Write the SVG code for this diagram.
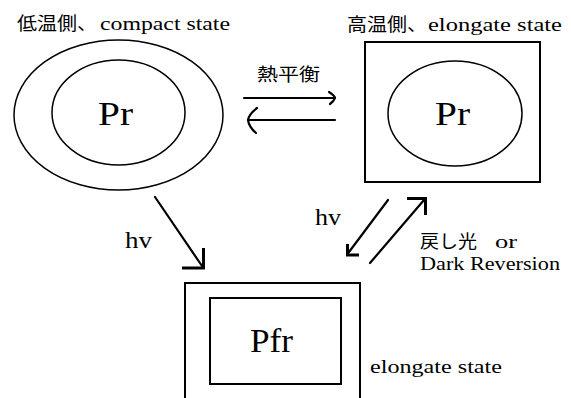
<svg xmlns="http://www.w3.org/2000/svg" width="571" height="398" viewBox="0 0 571 398">
<style>
.sh{fill:none;stroke:#000;stroke-width:1.5}
.bx{fill:none;stroke:#000;stroke-width:2}
.ln{fill:none;stroke:#000;stroke-width:2.2;stroke-linecap:round;stroke-linejoin:round}
.hd{fill:none;stroke:#000;stroke-width:3;stroke-linecap:butt;stroke-linejoin:miter}
.t{font-family:"Liberation Serif","Noto Sans CJK JP",serif;fill:#000}
.j{font-family:"Noto Sans CJK JP",sans-serif;fill:#000;font-size:18px}
.lab{font-size:19px}
.big{font-size:34px}
</style>
<rect width="571" height="398" fill="#fff"/>
<g id="node-compact">
<ellipse class="sh" cx="118.5" cy="115" rx="104.5" ry="75"/>
<ellipse class="sh" cx="118.5" cy="112.5" rx="66.5" ry="52.5"/>
<text class="t big" x="98" y="125" textLength="35" lengthAdjust="spacingAndGlyphs">Pr</text>
<text class="j" x="17" y="30" textLength="80" lengthAdjust="spacingAndGlyphs">低温側、</text>
<text class="t lab" x="100" y="30" textLength="130" lengthAdjust="spacingAndGlyphs">compact state</text>
</g>
<g id="node-elongate">
<rect class="bx" x="365" y="42" width="175" height="140"/>
<ellipse class="sh" cx="455" cy="113.5" rx="67" ry="52.5"/>
<text class="t big" x="435" y="125" textLength="35" lengthAdjust="spacingAndGlyphs">Pr</text>
<text class="j" x="347" y="31" textLength="80" lengthAdjust="spacingAndGlyphs">高温側、</text>
<text class="t lab" x="428" y="31" textLength="134" lengthAdjust="spacingAndGlyphs">elongate state</text>
</g>
<g id="node-pfr">
<path class="bx" d="M185,400 V283 H360 V400"/>
<rect class="bx" x="210" y="298" width="131" height="86"/>
<text class="t big" x="250" y="352" textLength="43" lengthAdjust="spacingAndGlyphs">Pfr</text>
<text class="t lab" x="370" y="373" textLength="132" lengthAdjust="spacingAndGlyphs">elongate state</text>
</g>
<g id="connectors">
<line class="ln" x1="244" y1="98" x2="335" y2="98"/>
<path class="ln" d="M329,92 Q335,96 335,98 Q334,101 330,104"/>
<line class="ln" x1="248" y1="120" x2="335" y2="120"/>
<path class="ln" d="M257,108 Q249,114 248,120 Q249,127 256,133"/>
<text class="j" x="257" y="81" textLength="63" lengthAdjust="spacingAndGlyphs">熱平衡</text>
<line class="ln" x1="155" y1="197" x2="202" y2="266"/>
<path class="hd" d="M203.5,248 V268 H182"/>
<text class="t" font-size="24" x="125" y="248" textLength="27" lengthAdjust="spacingAndGlyphs">hv</text>
<line class="ln" x1="388" y1="200" x2="349" y2="252"/>
<path class="hd" d="M347.5,244 V255 H359"/>
<line class="ln" x1="370" y1="263" x2="424" y2="200"/>
<path class="hd" d="M407,198.5 H425.5 V215"/>
<text class="t" font-size="24" x="315" y="225" textLength="26" lengthAdjust="spacingAndGlyphs">hv</text>
<text class="j" x="420" y="248" textLength="57" lengthAdjust="spacingAndGlyphs">戻し光</text>
<text class="t lab" x="495" y="248" textLength="22" lengthAdjust="spacingAndGlyphs">or</text>
<text class="t lab" x="420" y="270" textLength="140" lengthAdjust="spacingAndGlyphs">Dark Reversion</text>
</g>
</svg>
